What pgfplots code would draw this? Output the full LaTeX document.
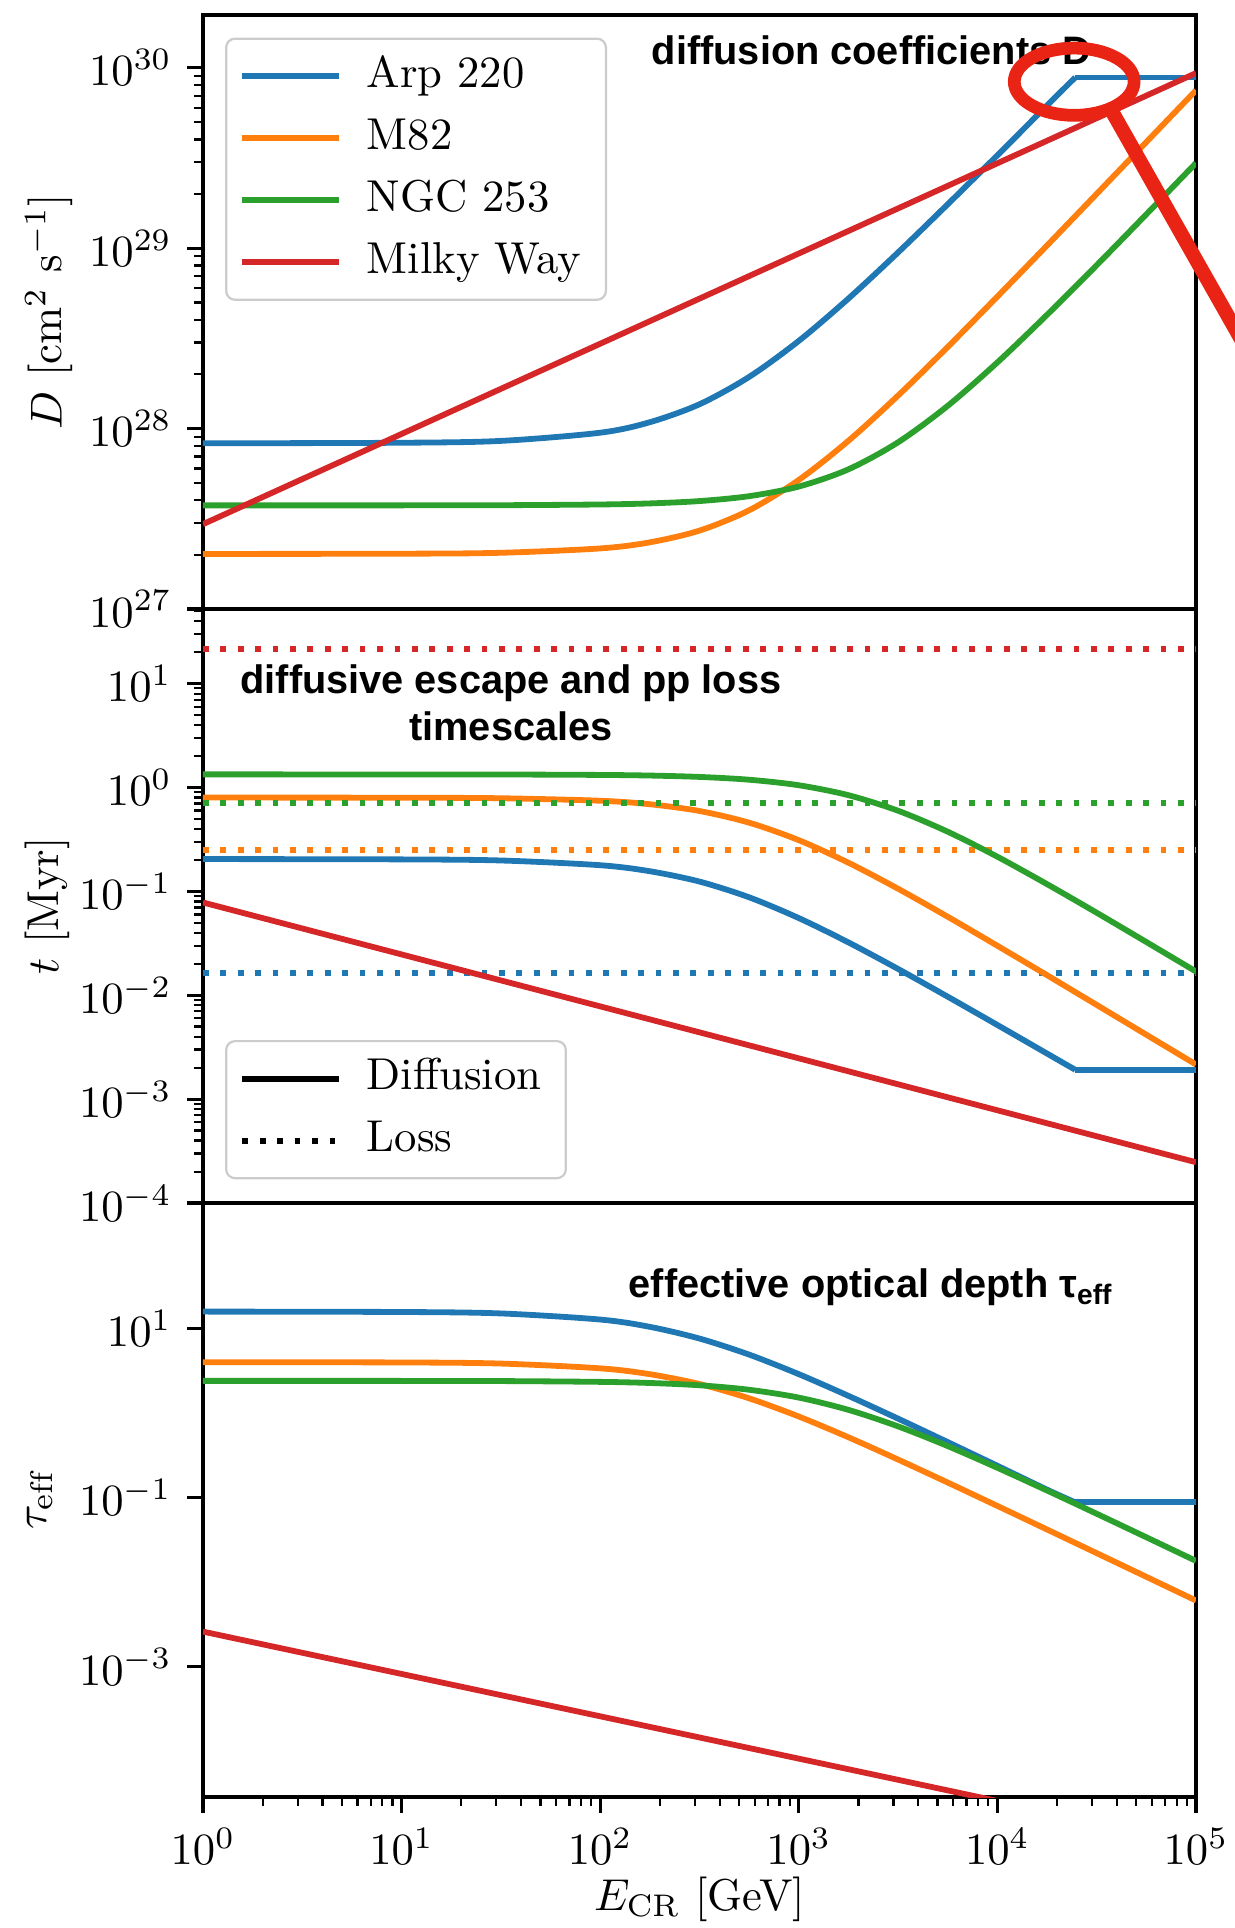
\documentclass[border=0pt]{standalone}
\usepackage{fontspec}
\usepackage{pgfplots}
\pgfplotsset{compat=1.18}
\newfontfamily\annfont{Liberation Sans}
\definecolor{c0}{RGB}{31,119,180}
\definecolor{c1}{RGB}{255,127,14}
\definecolor{c2}{RGB}{44,160,44}
\definecolor{c3}{RGB}{214,39,40}
\definecolor{annred}{RGB}{234,36,20}
\tikzset{
  dl/.style={line width=1.3pt},
  dt/.style={line width=1.3pt, dash pattern=on 1.3pt off 2.6pt},
}
\pgfplotsset{legend image code/.code={\draw[#1] (0pt,0pt) -- (21.7pt,0pt); \path (24.7pt,0pt);}}
\newcommand{\annstyle}{\annfont\bfseries\fontsize{8.9}{10}\selectfont}
\begin{document}
\begin{tikzpicture}
% ---------------- Panel 1: diffusion coefficients
\begin{axis}[at={(45.47pt,-3.36pt)}, anchor=north west,
  scale only axis, width=222.43pt, height=133.06pt,
  xmode=log, ymode=log, xmin=1, xmax=1e5,
  axis line style={line width=0.7pt},
  tick align=outside, ytick pos=left,
  major tick length=3.5pt, minor tick length=2pt,
  major tick style={line width=0.7pt, black},
  minor tick style={line width=0.5pt, black},
  ymin=1e27, ymax=1.96e30, xtick=\empty,
  ytick={1e27,1e28,1e29,1e30},
  minor ytick={2e27,3e27,4e27,5e27,6e27,7e27,8e27,9e27,2e28,3e28,4e28,5e28,6e28,7e28,8e28,9e28,2e29,3e29,4e29,5e29,6e29,7e29,8e29,9e29},
  ylabel={$D$ [cm$^2$ s$^{-1}$]},
  ylabel style={at={(axis description cs:-0.155,0.5)}, anchor=center},
  legend cell align=left,
  legend style={at={(axis description cs:0.0222,0.962)}, anchor=north west,
    draw=black!20, line width=0.5pt, rounded corners=2pt, fill=white,
    inner xsep=3pt, inner ysep=2.6pt, row sep=2.3pt,
    nodes={inner xsep=2.5pt, inner ysep=0.8pt, text height=0.75em, text depth=0.25em}},
]
\addplot[c0, dl, smooth] coordinates {(1,8.28e27) (10,8.34e27) (31.62,8.54e27) (100,9.48e27) (177.8,1.084e28) (316.2,1.363e28) (562.3,1.932e28) (1000,3.06e28) (1778,5.25e28) (3162,9.46e28) (5623,1.75e29) (10000,3.27e29) (17783,6.17e29) (24660,8.83e29)};
\addlegendentry{Arp 220}
\addplot[c0, dl, forget plot] coordinates {(24660,8.83e29) (100000,8.83e29)};
\addplot[c1, dl, smooth] coordinates {(1,2.018e27) (10,2.024e27) (31.62,2.048e27) (100,2.165e27) (177.8,2.34e27) (316.2,2.718e27) (562.3,3.522e27) (1000,5.188e27) (1778,8.55e27) (3162,1.523e28) (5623,2.832e28) (10000,5.388e28) (17783,1.034e29) (31623,1.998e29) (56234,3.87e29) (100000,7.49e29)};
\addlegendentry{M82}
\addplot[c2, dl, smooth] coordinates {(1,3.75e27) (10,3.752e27) (31.62,3.758e27) (100,3.794e27) (177.8,3.846e27) (316.2,3.963e27) (562.3,4.218e27) (1000,4.769e27) (1778,5.942e27) (3162,8.39e27) (5623,1.336e28) (10000,2.325e28) (17783,4.268e28) (31623,8.04e28) (56234,1.539e29) (100000,2.961e29)};
\addlegendentry{NGC 253}
\addplot[c3, dl] coordinates {(1,2.951e27) (100000,9.333e29)};
\addlegendentry{Milky Way}
\end{axis}
% ---------------- Panel 2: timescales
\begin{axis}[at={(45.47pt,-136.42pt)}, anchor=north west,
  scale only axis, width=222.43pt, height=133.06pt,
  xmode=log, ymode=log, xmin=1, xmax=1e5,
  axis line style={line width=0.7pt},
  tick align=outside, ytick pos=left,
  major tick length=3.5pt, minor tick length=2pt,
  major tick style={line width=0.7pt, black},
  minor tick style={line width=0.5pt, black},
  ymin=1e-4, ymax=52.2, xtick=\empty,
  ytick={1e-4,1e-3,1e-2,1e-1,1,10},
  minor ytick={2e-4,3e-4,4e-4,5e-4,6e-4,7e-4,8e-4,9e-4,2e-3,3e-3,4e-3,5e-3,6e-3,7e-3,8e-3,9e-3,0.02,0.03,0.04,0.05,0.06,0.07,0.08,0.09,0.2,0.3,0.4,0.5,0.6,0.7,0.8,0.9,2,3,4,5,6,7,8,9,20,30,40,50},
  ylabel={$t$ [Myr]},
  ylabel style={at={(axis description cs:-0.157,0.5)}, anchor=center},
  legend cell align=left,
  legend style={at={(axis description cs:0.0222,0.040)}, anchor=south west,
    draw=black!20, line width=0.5pt, rounded corners=2pt, fill=white,
    inner xsep=3pt, inner ysep=2.6pt, row sep=2.3pt,
    nodes={inner xsep=2.5pt, inner ysep=0.8pt, text height=0.75em, text depth=0.25em}},
]
\addlegendimage{black, dl}
\addlegendentry{Diffusion}
\addlegendimage{black, dt}
\addlegendentry{Loss}
\addplot[c0, dl, smooth, forget plot] coordinates {(1,0.2047) (10,0.2032) (31.62,0.1984) (100,0.1786) (177.8,0.1563) (316.2,0.1243) (562.3,0.0877) (1000,0.05534) (1778,0.03228) (3162,0.01792) (5623,0.00969) (10000,0.005176) (17783,0.002748) (24660,0.001919)};
\addplot[c0, dl, forget plot] coordinates {(24660,0.001919) (100000,0.001919)};
\addplot[c0, dt, forget plot] coordinates {(1,0.01633) (100000,0.01633)};
\addplot[c1, dl, smooth, forget plot] coordinates {(1,0.8) (10,0.7974) (31.62,0.788) (100,0.7457) (177.8,0.69) (316.2,0.594) (562.3,0.4584) (1000,0.3112) (1778,0.1888) (3162,0.106) (5623,0.057) (10000,0.02996) (17783,0.01561) (31623,0.00808) (56234,0.004172) (100000,0.002156)};
\addplot[c1, dt, forget plot] coordinates {(1,0.2523) (100000,0.2523)};
\addplot[c2, dl, smooth, forget plot] coordinates {(1,1.337) (10,1.336) (31.62,1.334) (100,1.321) (177.8,1.303) (316.2,1.264) (562.3,1.188) (1000,1.051) (1778,0.8433) (3162,0.5974) (5623,0.3752) (10000,0.2156) (17783,0.1174) (31623,0.0623) (56234,0.03256) (100000,0.01693)};
\addplot[c2, dt, forget plot] coordinates {(1,0.7047) (100000,0.7047)};
\addplot[c3, dl, forget plot] coordinates {(1,0.0782) (100000,2.472e-4)};
\addplot[c3, dt, forget plot] coordinates {(1,21.43) (100000,21.43)};
\end{axis}
% ---------------- Panel 3: effective optical depth
\begin{axis}[at={(45.47pt,-269.47pt)}, anchor=north west,
  scale only axis, width=222.43pt, height=133.06pt,
  xmode=log, ymode=log, xmin=1, xmax=1e5,
  axis line style={line width=0.7pt},
  tick align=outside, ytick pos=left, xtick pos=left,
  major tick length=3.5pt, minor tick length=2pt,
  major tick style={line width=0.7pt, black},
  minor tick style={line width=0.5pt, black},
  ymin=2.9e-5, ymax=300,
  ytick={1e-3,1e-1,1e1}, yminorticks=false,
  xtick={1,10,100,1000,10000,100000},
  minor xtick={2,3,4,5,6,7,8,9,20,30,40,50,60,70,80,90,200,300,400,500,600,700,800,900,2000,3000,4000,5000,6000,7000,8000,9000,20000,30000,40000,50000,60000,70000,80000,90000},
  ylabel={$\tau_\mathrm{eff}$},
  ylabel style={at={(axis description cs:-0.164,0.5)}, anchor=center},
  xlabel={$E_\mathrm{CR}$ [GeV]},
  xlabel style={at={(axis description cs:0.5,-0.1714)}, anchor=center},
]
\addplot[c0, dl, smooth] coordinates {(1,15.67) (10,15.5) (31.62,14.9) (100,12.62) (177.8,10.35) (316.2,7.53) (562.3,4.864) (1000,2.858) (1778,1.585) (3162,0.8531) (5623,0.4508) (10000,0.2368) (17783,0.1237) (24660,0.0875)};
\addplot[c0, dl] coordinates {(24660,0.0875) (100000,0.0875)};
\addplot[c1, dl, smooth] coordinates {(1,3.963) (10,3.93) (31.62,3.813) (100,3.35) (177.8,2.856) (316.2,2.187) (562.3,1.482) (1000,0.904) (1778,0.514) (3162,0.2805) (5623,0.1501) (10000,0.07948) (17783,0.04186) (31623,0.02201) (56234,0.01156) (100000,0.006067)};
\addplot[c2, dl, smooth] coordinates {(1,2.382) (10,2.38) (31.62,2.369) (100,2.318) (177.8,2.249) (316.2,2.113) (562.3,1.871) (1000,1.511) (1778,1.083) (3162,0.691) (5623,0.4043) (10000,0.2241) (17783,0.1208) (31623,0.06423) (56234,0.0339) (100000,0.01782)};
\addplot[c3, dl] coordinates {(1,2.606e-3) (100000,8.24e-6)};
\end{axis}
% ---------------- annotations
\node[anchor=base west, inner sep=0pt] at (145.82pt,-14.49pt) {\annstyle diffusion coefficients D};
\node[anchor=base, inner sep=0pt] at (114.46pt,-155.23pt) {\annstyle diffusive escape and pp loss};
\node[anchor=base, inner sep=0pt] at (114.46pt,-165.76pt) {\annstyle timescales};
\node[anchor=base west, inner sep=0pt] at (140.67pt,-290.53pt) {\annstyle effective optical depth τ\raisebox{-0.35ex}{\fontsize{6.3}{7}\selectfont eff}};
\draw[annred, line width=2.85pt] (240.62pt,-18.30pt) ellipse [x radius=13.42pt, y radius=7.53pt];
\draw[annred, line width=3.2pt] (249.31pt,-25.36pt) -- (291.2pt,-99.28pt);
\pgfresetboundingbox
\useasboundingbox (0pt,0pt) rectangle (276.42pt,-431.87pt);
\end{tikzpicture}
\end{document}
